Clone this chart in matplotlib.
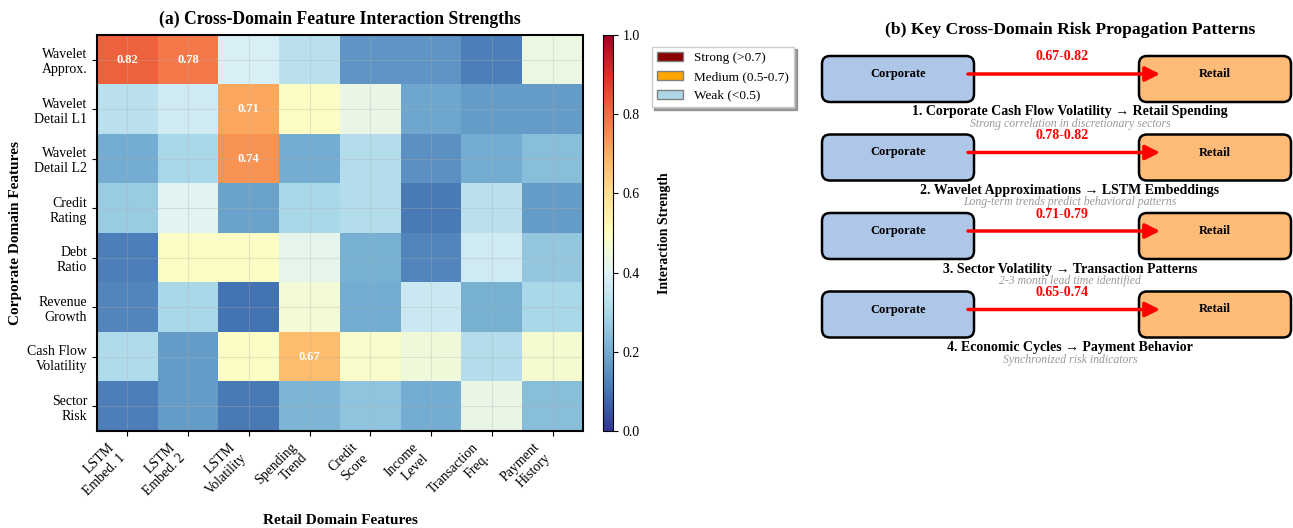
import matplotlib.pyplot as plt
import numpy as np
from matplotlib.patches import FancyBboxPatch, Patch

plt.rcParams['font.family'] = ['Liberation Serif', 'DejaVu Serif']

corp_features = ['Wavelet\nApprox.', 'Wavelet\nDetail L1', 'Wavelet\nDetail L2', 'Credit\nRating',
                 'Debt\nRatio', 'Revenue\nGrowth', 'Cash Flow\nVolatility', 'Sector\nRisk']
retail_features = ['LSTM\nEmbed. 1', 'LSTM\nEmbed. 2', 'LSTM\nVolatility', 'Spending\nTrend',
                   'Credit\nScore', 'Income\nLevel', 'Transaction\nFreq.', 'Payment\nHistory']

strength = np.array([
    [0.82, 0.78, 0.39, 0.33, 0.16, 0.16, 0.12, 0.44],
    [0.33, 0.37, 0.71, 0.49, 0.43, 0.19, 0.17, 0.17],
    [0.20, 0.30, 0.74, 0.20, 0.32, 0.15, 0.20, 0.24],
    [0.27, 0.41, 0.18, 0.30, 0.32, 0.11, 0.33, 0.17],
    [0.12, 0.49, 0.49, 0.42, 0.21, 0.13, 0.37, 0.26],
    [0.13, 0.30, 0.10, 0.46, 0.20, 0.36, 0.21, 0.30],
    [0.31, 0.17, 0.49, 0.67, 0.48, 0.45, 0.32, 0.47],
    [0.12, 0.17, 0.11, 0.22, 0.25, 0.20, 0.43, 0.24],
])

pattern_titles = ['1. Corporate Cash Flow Volatility \u2192 Retail Spending',
                  '2. Wavelet Approximations \u2192 LSTM Embeddings',
                  '3. Sector Volatility \u2192 Transaction Patterns',
                  '4. Economic Cycles \u2192 Payment Behavior']
pattern_notes = ['Strong correlation in discretionary sectors',
                 'Long-term trends predict behavioral patterns',
                 '2-3 month lead time identified',
                 'Synchronized risk indicators']
pattern_ranges = ['0.67-0.82', '0.78-0.82', '0.71-0.79', '0.65-0.74']

W, H = 1293, 528
fig = plt.figure(figsize=(W / 100, H / 100), dpi=100)

# (a) heatmap
ax = fig.add_axes([97 / W, 1 - 431 / H, (583 - 97) / W, (431 - 35) / H])
im = ax.imshow(strength, cmap='RdYlBu_r', vmin=0, vmax=1, aspect='auto')
ax.set_xticks(np.arange(len(retail_features)))
ax.set_yticks(np.arange(len(corp_features)))
ax.set_xticklabels(retail_features, rotation=45, ha='right', fontsize=10)
ax.set_yticklabels(corp_features, fontsize=10)
ax.grid(True, alpha=0.3)
for s in ax.spines.values():
    s.set_linewidth(1.5)
for i in range(strength.shape[0]):
    for j in range(strength.shape[1]):
        if strength[i, j] > 0.6:
            ax.text(j, i, f'{strength[i, j]:.2f}', ha='center', va='center',
                    color='white', fontweight='bold', fontsize=9)
ax.set_xlabel('Retail Domain Features', fontsize=11, fontweight='bold', labelpad=5)
ax.set_ylabel('Corporate Domain Features', fontsize=11, fontweight='bold')
ax.set_title('(a) Cross-Domain Feature Interaction Strengths', fontsize=12.7, fontweight='bold', pad=8)

cax = fig.add_axes([603 / W, 1 - 431 / H, 10 / W, (431 - 35) / H])
cb = fig.colorbar(im, cax=cax)
cb.set_label('Interaction Strength', fontsize=10, fontweight='bold', labelpad=13)
cb.ax.tick_params(labelsize=10)

handles = [Patch(facecolor='darkred', edgecolor='gray', label='Strong (>0.7)'),
           Patch(facecolor='orange', edgecolor='gray', label='Medium (0.5-0.7)'),
           Patch(facecolor='lightblue', edgecolor='gray', label='Weak (<0.5)')]
fig.legend(handles=handles, loc='upper left', bbox_to_anchor=(645 / W, 1 - 40 / H),
           fontsize=9.5, shadow=True, fancybox=False, framealpha=1)

# (b) propagation patterns
ax2 = fig.add_axes([815 / W, 0, (W - 815) / W, 1])
ax2.set_xlim(815, W)
ax2.set_ylim(H, 0)
ax2.axis('off')
ax2.text(1070, 30, '(b) Key Cross-Domain Risk Propagation Patterns', ha='center', va='center',
         fontsize=12.6, fontweight='bold')

for k, (title, note, rng) in enumerate(zip(pattern_titles, pattern_notes, pattern_ranges)):
    yc = 79 + k * 78.5
    ax2.add_patch(FancyBboxPatch((825, yc - 20), 146, 40, boxstyle='round,pad=3,rounding_size=8',
                                 facecolor='#aec7e8', edgecolor='black', linewidth=1.8))
    ax2.add_patch(FancyBboxPatch((1142, yc - 20), 146, 40, boxstyle='round,pad=3,rounding_size=8',
                                 facecolor='#ffbb78', edgecolor='black', linewidth=1.8))
    ax2.text(898, yc - 5, 'Corporate', ha='center', va='center', fontsize=9, fontweight='bold')
    ax2.text(1215, yc - 5, 'Retail', ha='center', va='center', fontsize=9, fontweight='bold')
    ax2.annotate('', xy=(1160, yc - 5), xytext=(968, yc - 5),
                 arrowprops=dict(arrowstyle='-|>', color='red', lw=2.5, mutation_scale=22,
                                 shrinkA=0, shrinkB=0))
    ax2.text(1062, yc - 22, rng, ha='center', va='center', fontsize=10, fontweight='bold', color='red')
    ax2.text(1070, yc + 33, title, ha='center', va='center', fontsize=10, fontweight='bold')
    ax2.text(1070, yc + 45, note, ha='center', va='center', fontsize=8.5, style='italic', color='gray',
             alpha=0.8)

fig.savefig('out.png', dpi=100)
plt.close(fig)
